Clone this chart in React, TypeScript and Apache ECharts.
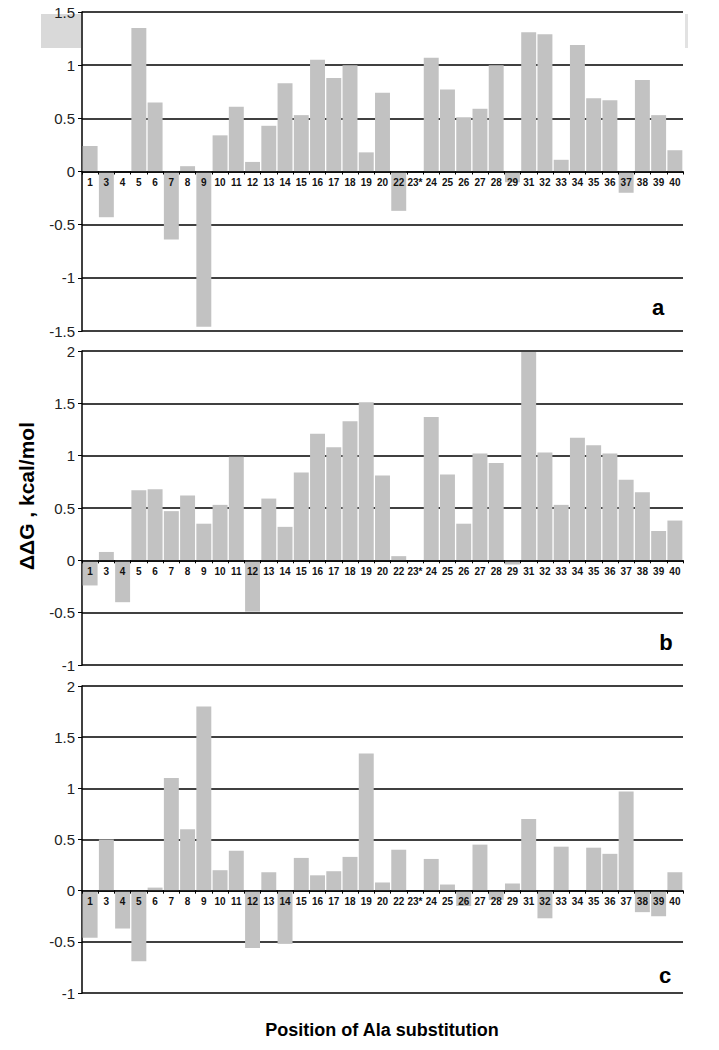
import React, { useEffect, useRef } from "react";
import * as echarts from "echarts";

const categories = [
  "1", "3", "4", "5", "6", "7", "8", "9", "10", "11", "12", "13", "14", "15", "16", "17", "18", "19", "20",
  "22", "23*", "24", "25", "26", "27", "28", "29", "31", "32", "33", "34", "35", "36", "37", "38", "39", "40",
];

const valuesA = [
  0.24, -0.43, 0, 1.35, 0.65, -0.64, 0.05, -1.46, 0.34, 0.61, 0.09, 0.43, 0.83, 0.53, 1.05, 0.88, 1.0, 0.18, 0.74,
  -0.37, 0, 1.07, 0.77, 0.51, 0.59, 1.0, -0.1, 1.31, 1.29, 0.11, 1.19, 0.69, 0.67, -0.2, 0.86, 0.53, 0.2,
];

const valuesB = [
  -0.24, 0.08, -0.4, 0.67, 0.68, 0.47, 0.62, 0.35, 0.53, 0.99, -0.49, 0.59, 0.32, 0.84, 1.21, 1.08, 1.33, 1.51, 0.81,
  0.04, 0, 1.37, 0.82, 0.35, 1.02, 0.93, -0.04, 1.99, 1.03, 0.53, 1.17, 1.1, 1.02, 0.77, 0.65, 0.28, 0.38,
];

const valuesC = [
  -0.46, 0.5, -0.37, -0.69, 0.03, 1.1, 0.6, 1.8, 0.2, 0.39, -0.56, 0.18, -0.52, 0.32, 0.15, 0.19, 0.33, 1.34, 0.08,
  0.4, 0, 0.31, 0.06, -0.15, 0.45, -0.09, 0.07, 0.7, -0.27, 0.43, 0, 0.42, 0.36, 0.97, -0.21, -0.25, 0.18,
];

const panelLetters = ["a", "b", "c"];
const yRanges = [
  { min: -1.5, max: 1.5 },
  { min: -1, max: 2 },
  { min: -1, max: 2 },
];

const gridBoxes = [
  { top: 12, height: 319 },
  { top: 351, height: 314 },
  { top: 686, height: 307 },
];

const yTitle = "ΔΔG , kcal/mol";
const xTitle = "Position of Ala substitution";

export default function App() {
  const ref = useRef<HTMLDivElement>(null);
  useEffect(() => {
    if (!ref.current) return;
    const chart = echarts.init(ref.current, undefined, { renderer: "svg" });
    const seriesData = [valuesA, valuesB, valuesC];
    const font = "Arial, 'Liberation Sans', sans-serif";
    chart.setOption({
      animation: false,
      backgroundColor: "#ffffff",
      grid: gridBoxes.map((g) => ({ left: 82, right: 36, top: g.top, height: g.height, containLabel: false })),
      xAxis: gridBoxes.map((g, i) => {
        const r = yRanges[i];
        const zeroOffset = -(g.height * (0 - r.min)) / (r.max - r.min);
        return {
          type: "category",
          gridIndex: i,
          data: categories,
          position: "bottom",
          offset: zeroOffset,
          z: 10,
          axisLine: { onZero: false, lineStyle: { color: "#000", width: 1.5 } },
          axisTick: { show: true, length: 3, lineStyle: { color: "#000", width: 1 } },
          axisLabel: {
            interval: 0,
            margin: 6,
            fontSize: 10,
            fontWeight: "bold",
            color: "#111",
            fontFamily: font,
          },
          splitLine: { show: false },
        };
      }),
      yAxis: gridBoxes.map((_, i) => ({
        type: "value",
        gridIndex: i,
        min: yRanges[i].min,
        max: yRanges[i].max,
        interval: 0.5,
        axisLine: { show: true, lineStyle: { color: "#000", width: 1.5 } },
        axisTick: { show: true, length: 4, lineStyle: { color: "#000" } },
        axisLabel: { margin: 7, fontSize: 15, color: "#222", fontFamily: font },
        splitLine: { show: true, lineStyle: { color: "#000", width: 1.5 } },
      })),
      series: seriesData.map((d, i) => ({
        type: "bar",
        xAxisIndex: i,
        yAxisIndex: i,
        data: d,
        barCategoryGap: "8%",
        itemStyle: { color: "#c2c2c2" },
        z: 2,
      })),
      graphic: [
        { type: "rect", shape: { x: 41, y: 14, width: 40, height: 34 }, style: { fill: "#d9d9d9" } },
        { type: "rect", shape: { x: 685, y: 14, width: 3, height: 34 }, style: { fill: "#e2e2e2" } },
        ...[
          { x: 658, y: 307 },
          { x: 666, y: 642 },
          { x: 665, y: 975 },
        ].map((p, i) => ({
          type: "text",
          x: p.x,
          y: p.y,
          style: {
            text: panelLetters[i],
            fontSize: 22,
            fontWeight: "bold",
            fontFamily: font,
            fill: "#000",
            align: "center",
            verticalAlign: "middle",
          },
        })),
        {
          type: "text",
          x: 26,
          y: 496,
          rotation: Math.PI / 2,
          style: {
            text: yTitle,
            fontSize: 21,
            fontWeight: "bold",
            fontFamily: font,
            fill: "#000",
            align: "center",
            verticalAlign: "middle",
          },
        },
        {
          type: "text",
          x: 382,
          y: 1030,
          style: {
            text: xTitle,
            fontSize: 18,
            fontWeight: "bold",
            fontFamily: font,
            fill: "#000",
            align: "center",
            verticalAlign: "middle",
          },
        },
      ],
    });
    return () => chart.dispose();
  }, []);
  return (
    <div
      ref={ref}
      style={{ position: "absolute", left: 0, top: 0, width: 719, height: 1050, background: "#fff" }}
    />
  );
}
